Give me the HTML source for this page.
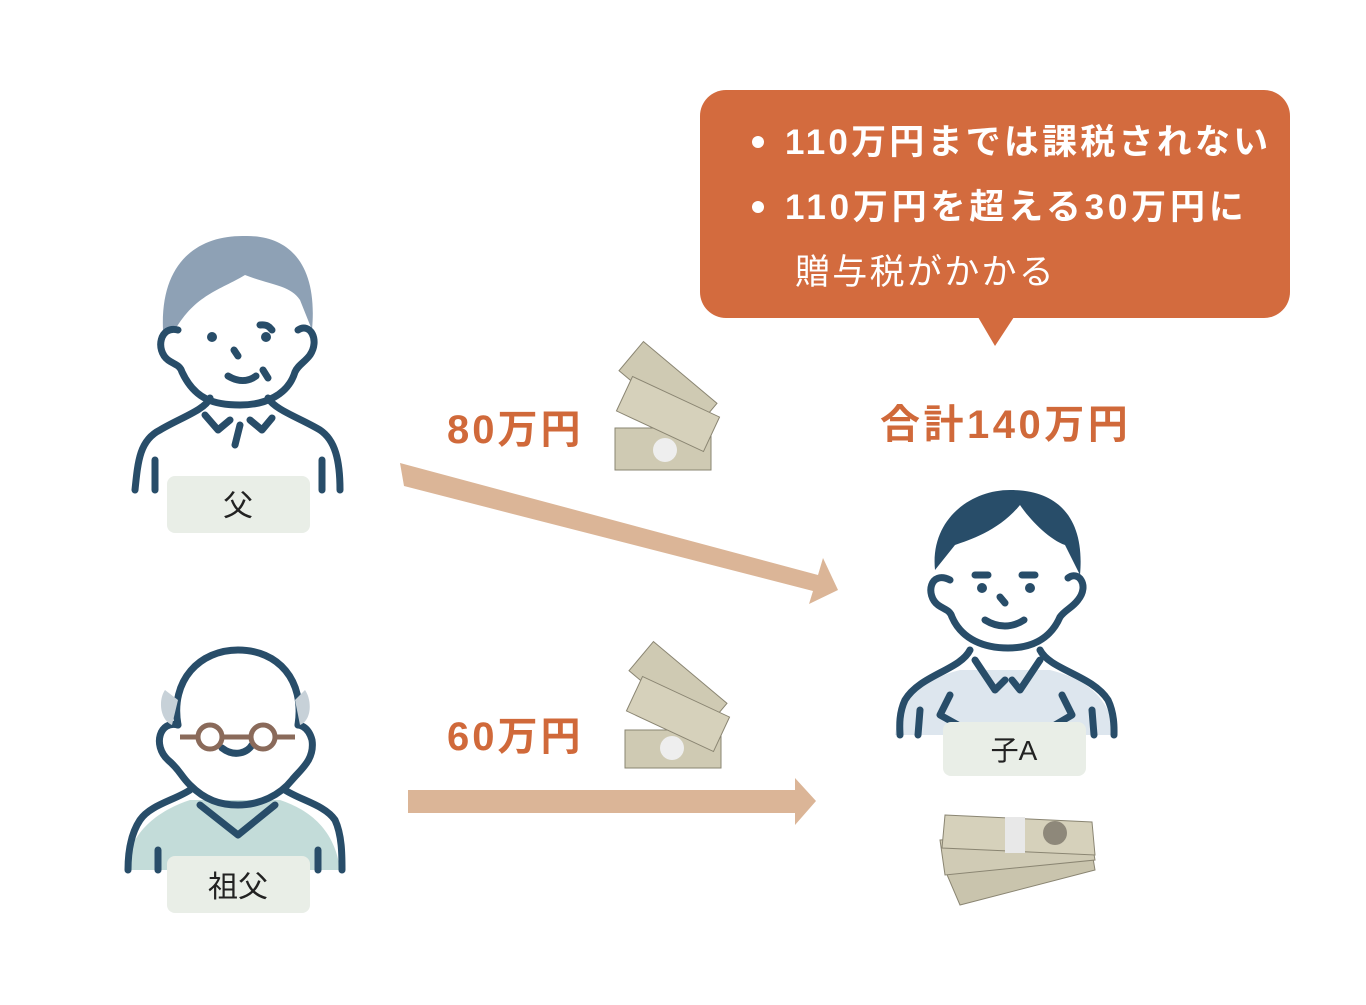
<!DOCTYPE html>
<html><head><meta charset="utf-8"><style>
html,body{margin:0;padding:0;background:#fff;}
body{width:1366px;height:1000px;overflow:hidden;font-family:"Liberation Sans","Noto Sans CJK JP",sans-serif;}
</style></head><body>
<svg width="1366" height="1000" viewBox="0 0 1366 1000" xmlns="http://www.w3.org/2000/svg" font-family="'Liberation Sans','Noto Sans CJK JP',sans-serif">
<!-- callout -->
<rect x="700" y="90" width="590" height="228" rx="26" fill="#d36b3e"/>
<polygon points="978,317 1014,317 995,346" fill="#d36b3e"/>
<g fill="#fff" font-size="35" font-weight="bold">
<circle cx="758" cy="142" r="6"/><circle cx="758" cy="207" r="6"/>
<text x="785" y="154" letter-spacing="3.2">110万円までは課税されない</text>
<text x="785" y="219" letter-spacing="3.8">110万円を超える30万円に</text>
<text x="795" y="284" font-weight="normal" letter-spacing="2.3">贈与税がかかる</text>
</g>
<g fill="#d0693a" font-size="40" font-weight="bold">
<text x="447" y="443" letter-spacing="3">80万円</text>
<text x="447" y="750" letter-spacing="3">60万円</text>
<text x="880" y="438" letter-spacing="3.5">合計140万円</text>
</g>
<!-- arrows -->
<g fill="#dbb597">
<polygon points="400,463 818,575 823,558 838,590 809,604 813,591 404,486"/>
<polygon points="408,790 795,790 795,778 816,801 795,825 795,813 408,813"/>
</g>
<!-- money small -->
<g>
<rect x="615" y="428" width="96" height="42" fill="#cfcab3" stroke="#8a8572"/>
<rect x="620" y="368" width="96" height="38" fill="#cfcab3" stroke="#8a8572" transform="rotate(40 668 387)"/>
<rect x="620" y="395" width="96" height="38" fill="#d6d1bb" stroke="#8a8572" transform="rotate(25 668 414)"/>
<circle cx="665" cy="450" r="12" fill="#eee"/>
<rect x="625" y="730" width="96" height="38" fill="#cfcab3" stroke="#8a8572"/>
<rect x="630" y="668" width="96" height="38" fill="#cfcab3" stroke="#8a8572" transform="rotate(40 678 687)"/>
<rect x="630" y="695" width="96" height="38" fill="#d6d1bb" stroke="#8a8572" transform="rotate(25 678 714)"/>
<circle cx="672" cy="748" r="12" fill="#eee"/>
</g>
<!-- money stack -->
<g stroke="#8a8572">
<polygon points="945,870 1090,840 1095,870 960,905" fill="#c9c4ad"/>
<polygon points="940,840 1090,830 1095,860 945,875" fill="#d0cbb5"/>
<polygon points="945,815 1092,822 1095,855 942,848" fill="#d6d1bb"/>
<rect x="1005" y="817" width="20" height="36" fill="#e8e8e8" stroke="none"/>
<circle cx="1055" cy="833" r="12" fill="#8e887a" stroke="none"/>
</g>
<!-- father -->
<g stroke="#284d69" stroke-width="7" fill="none" stroke-linecap="round" stroke-linejoin="round">
<path d="M163,330 C160,260 200,235 245,236 C290,235 318,265 312,330 L300,300 C290,285 270,285 245,275 C220,290 195,295 175,330Z" fill="#8ea1b5" stroke="none"/>
<path d="M178,330 C160,325 155,350 168,360 C175,365 180,365 182,372 C195,400 215,405 240,405 C265,405 288,395 295,372 C298,365 305,362 310,355 C320,340 310,322 298,330"/>
<path d="M210,398 C205,410 180,418 160,430 C140,440 138,460 135,490 M268,398 C275,410 300,418 320,430 C335,440 340,460 340,490"/>
<path d="M205,415 L218,430 L230,420 M250,420 L262,430 L272,418 M240,425 L235,445 M155,460 L155,490 M322,460 L322,490"/>
<path d="M228,376 C238,382 248,382 256,376 M234,350 L238,356 M260,325 C268,324 270,328 272,330 M263,370 L268,378"/>
</g>
<g fill="#284d69"><circle cx="212" cy="337" r="5"/><circle cx="266" cy="337" r="5"/></g>
<rect x="167" y="476" width="143" height="57" rx="8" fill="#e9eee7"/>
<text x="238" y="516" font-size="30" text-anchor="middle" fill="#222">父</text>
<!-- grandfather -->
<path d="M125,870 C130,830 160,810 190,800 L280,800 C310,810 335,830 340,870Z" fill="#c3dcd9"/>
<g stroke="#284d69" stroke-width="7" fill="none" stroke-linecap="round" stroke-linejoin="round">
<path d="M178,725 C170,680 200,650 238,650 C278,650 305,680 298,725"/>
<path d="M178,725 C160,720 152,745 168,760 C180,770 180,775 190,785 C205,800 220,805 238,805 C260,805 280,795 292,780 C300,770 315,760 312,740 C308,725 298,725 298,725"/>
<path d="M190,790 C175,800 150,805 140,820 C130,835 128,855 128,870 M285,790 C300,800 325,805 335,820 C342,835 342,855 342,870"/>
<path d="M200,805 L238,835 L275,805 M158,850 L158,870 M318,850 L318,870 M222,748 C235,758 248,752 252,745"/>
</g>
<path d="M165,690 C158,700 160,720 172,725 L178,700Z M305,690 C312,700 312,720 300,725 L295,700Z" fill="#c7d1d8"/>
<g stroke="#8a6a5a" stroke-width="5" fill="none"><circle cx="210" cy="737" r="12"/><circle cx="263" cy="737" r="12"/><path d="M222,737 L251,737 M198,737 L180,737 M275,737 L295,737"/></g>
<rect x="167" y="856" width="143" height="57" rx="8" fill="#e9eee7"/>
<text x="238" y="897" font-size="30" text-anchor="middle" fill="#222">祖父</text>
<!-- son -->
<path d="M895,735 C900,700 920,680 960,670 L1050,670 C1090,680 1110,700 1115,735Z" fill="#dde6ee"/>
<path d="M935,570 C930,520 970,490 1010,490 C1060,490 1085,520 1080,575 L1065,545 C1050,540 1030,520 1020,505 C1000,530 970,540 955,545Z" fill="#284d69"/>
<g stroke="#284d69" stroke-width="7" fill="none" stroke-linecap="round" stroke-linejoin="round">
<path d="M950,580 C930,570 925,595 938,605 C945,610 950,610 952,617 C962,640 985,648 1008,648 C1030,648 1050,640 1060,617 C1065,610 1072,608 1078,600 C1090,585 1078,570 1068,578"/>
<path d="M985,620 C998,628 1012,628 1024,620 M1000,597 L1005,603 M975,575 L988,575 M1022,575 L1035,575"/>
<path d="M970,650 C960,670 920,675 905,700 C898,715 900,730 900,735 M1040,650 C1050,670 1092,675 1108,700 C1115,715 1114,730 1114,735"/>
<path d="M975,660 L995,690 L1005,680 M1040,660 L1020,690 L1012,680 M950,695 L940,715 L958,725 M1062,695 L1072,715 L1055,725 M920,710 L918,735 M1092,710 L1094,735"/>
</g>
<g fill="#284d69"><circle cx="982" cy="588" r="5"/><circle cx="1030" cy="588" r="5"/></g>
<rect x="943" y="722" width="143" height="54" rx="8" fill="#e9eee7"/>
<text x="1014" y="760" font-size="28" text-anchor="middle" fill="#222">子A</text>
</svg>
</body></html>
